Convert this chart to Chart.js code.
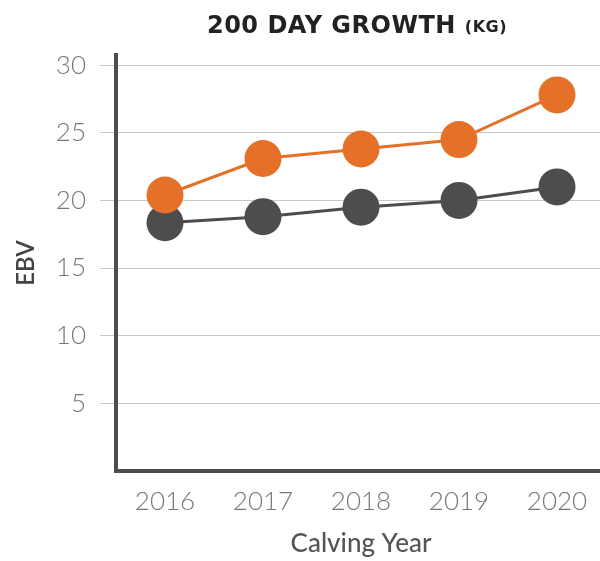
<!DOCTYPE html>
<html>
<head>
<meta charset="utf-8">
<script src="https://cdn.jsdelivr.net/npm/chart.js@4.4.0/dist/chart.umd.min.js"></script>
<style>
html,body{margin:0;padding:0;background:#fff;overflow:hidden;width:600px;height:561px;}
#wrap{position:relative;width:606px;height:561px;}
</style>
</head>
<body>
<div id="wrap"><canvas id="c" width="606" height="561"></canvas></div>
<script>
const categories = ['2016', '2017', '2018', '2019', '2020'];
const orangeSeries = [20.4, 23.1, 23.8, 24.5, 27.8];
const greySeries = [18.35, 18.8, 19.5, 20.0, 21.0];
const yTickValues = [5, 10, 15, 20, 25, 30];
const chartTitle = '200 DAY GROWTH';
const chartTitleUnit = '(KG)';
const xTitle = 'Calving Year';
const yTitle = 'EBV';

const ORANGE = '#E57028';
const GREY = '#4D4D4F';

const titlePlugin = {
  id: 'customTitle',
  afterDraw(chart) {
    const ctx = chart.ctx;
    ctx.save();
    ctx.fillStyle = '#222';
    ctx.textBaseline = 'alphabetic';
    ctx.textAlign = 'left';
    const f1 = 'bold 24px "DejaVu Sans"';
    const f2 = 'bold 16px "DejaVu Sans"';
    ctx.font = f1;
    ctx.letterSpacing = '0.5px';
    const w1 = ctx.measureText(chartTitle).width;
    ctx.font = f2;
    ctx.letterSpacing = '0.5px';
    const w2 = ctx.measureText(chartTitleUnit).width;
    const gap = 9;
    const total = w1 + gap + w2;
    const cx = 357;
    const x = cx - total / 2;
    ctx.font = f1;
    ctx.letterSpacing = '0.5px';
    ctx.fillText(chartTitle, x, 33);
    ctx.font = f2;
    ctx.letterSpacing = '0.5px';
    ctx.fillText(chartTitleUnit, x + w1 + gap, 32);
    ctx.restore();
  }
};

new Chart(document.getElementById('c'), {
  type: 'line',
  data: {
    labels: categories,
    datasets: [
      {
        data: orangeSeries,
        borderColor: ORANGE,
        backgroundColor: ORANGE,
        pointBackgroundColor: ORANGE,
        pointBorderColor: ORANGE,
        borderWidth: 3,
        pointRadius: 18.5,
        pointBorderWidth: 0,
        tension: 0
      },
      {
        data: greySeries,
        borderColor: GREY,
        backgroundColor: GREY,
        pointBackgroundColor: GREY,
        pointBorderColor: GREY,
        borderWidth: 3,
        pointRadius: 18.5,
        pointBorderWidth: 0,
        tension: 0
      }
    ]
  },
  options: {
    responsive: false,
    animation: false,
    devicePixelRatio: 1,
    layout: { autoPadding: false, padding: { top: 55, right: 0, bottom: 0, left: 0 } },
    plugins: {
      legend: { display: false },
      tooltip: { enabled: false },
      title: { display: false }
    },
    scales: {
      x: {
        type: 'category',
        offset: true,
        grid: { display: true, color: 'transparent', drawTicks: false },
        border: { display: true, color: '#4D4D4F', width: 4 },
        ticks: {
          color: '#777',
          font: { family: 'Lato', size: 26, weight: '300' },
          padding: 15
        },
        title: {
          display: true,
          text: xTitle,
          color: '#555',
          font: { family: 'Lato', size: 26, weight: '500' },
          padding: { top: 4, bottom: 2 }
        },
        afterFit(scale) {
          scale.height = 90;
          scale.paddingLeft = 0;
          scale.paddingRight = 0;
        }
      },
      y: {
        min: 0,
        max: 30.75,
        afterBuildTicks(scale) {
          scale.ticks = yTickValues.map(v => ({ value: v }));
        },
        grid: { color: '#C8C8C8', lineWidth: 1, tickLength: 16, drawTicks: true },
        border: { display: true, color: '#4D4D4F', width: 4 },
        ticks: {
          color: '#777',
          font: { family: 'Lato', size: 26, weight: '300' },
          padding: 14
        },
        title: {
          display: true,
          text: yTitle,
          color: '#444',
          font: { family: 'Lato', size: 24, weight: '600' },
          padding: { top: 12, bottom: 0 }
        },
        afterFit(scale) {
          scale.width = 116;
          scale.paddingTop = 0;
          scale.paddingBottom = 0;
        }
      }
    }
  },
  plugins: [titlePlugin]
});
</script>
</body>
</html>
